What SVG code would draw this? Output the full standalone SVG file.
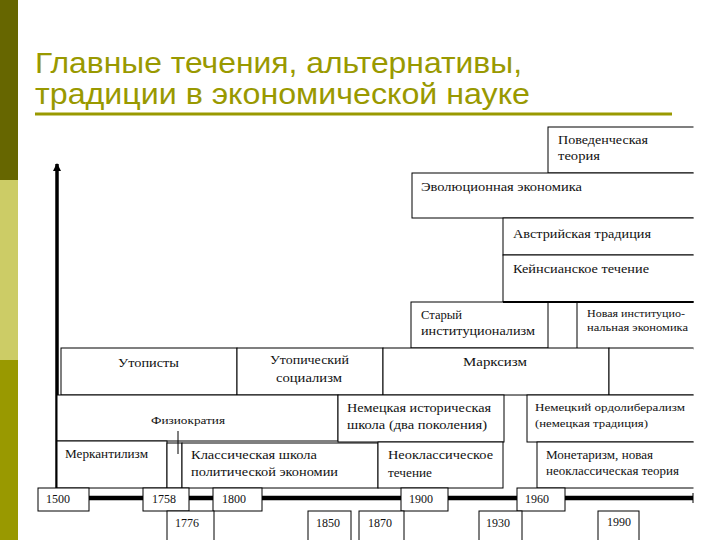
<svg xmlns="http://www.w3.org/2000/svg" width="720" height="540" viewBox="0 0 720 540">
<style>
.box{fill:#fff;stroke:#000;stroke-width:1}
.t{font-family:"Liberation Serif","Times New Roman",serif;font-size:13px;fill:#111}
.s{font-size:11px}
.y{font-family:"Liberation Serif","Times New Roman",serif;font-size:12px;fill:#111}
.title{font-family:"Liberation Sans",Arial,sans-serif;font-size:30px;fill:#999900}
</style>
<defs>
<marker id="arr" viewBox="0 0 8 10" refX="7" refY="5" markerWidth="8" markerHeight="10" markerUnits="userSpaceOnUse" orient="auto">
<path d="M0,1 L8,5 L0,9 Z" fill="#000"/>
</marker>
<clipPath id="clip"><rect x="0" y="0" width="693.5" height="540"/></clipPath>
</defs>
<rect x="0" y="0" width="720" height="540" fill="#fff"/>
<g id="sidebar">
<rect x="0" y="0" width="18" height="180" fill="#666600"/>
<rect x="0" y="180" width="18" height="180" fill="#CCCC66"/>
<rect x="0" y="360" width="18" height="180" fill="#999900"/>
</g>
<g id="title">
<text class="title" x="35" y="73" textLength="487" lengthAdjust="spacingAndGlyphs">Главные течения, альтернативы,</text>
<text class="title" x="35" y="104" textLength="495" lengthAdjust="spacingAndGlyphs">традиции в экономической науке</text>
<rect x="35" y="112.5" width="637" height="3" fill="#999900"/>
</g>
<g id="connectors">
<line x1="57" y1="498" x2="57" y2="164" stroke="#000" stroke-width="3.5" marker-end="url(#arr)"/>
<line x1="57" y1="498" x2="693" y2="498" stroke="#000" stroke-width="4.5"/>
<line x1="693" y1="493" x2="693" y2="503" stroke="#000" stroke-width="1"/>
</g>
<g clip-path="url(#clip)">
<g id="behav"><rect class="box" x="548" y="127" width="160" height="46"/>
<text class="t" x="558" y="144" textLength="90" lengthAdjust="spacingAndGlyphs">Поведенческая</text>
<text class="t" x="558" y="160" textLength="42" lengthAdjust="spacingAndGlyphs">теория</text></g>
<g id="evol"><rect class="box" x="412" y="173" width="300" height="45"/>
<text class="t" x="421" y="191" textLength="161" lengthAdjust="spacingAndGlyphs">Эволюционная экономика</text></g>
<g id="austr"><rect class="box" x="503" y="218" width="210" height="37"/>
<text class="t" x="513" y="238" textLength="138" lengthAdjust="spacingAndGlyphs">Австрийская традиция</text></g>
<g id="keynes"><rect class="box" x="503" y="255" width="210" height="47"/>
<text class="t" x="513" y="273" textLength="136" lengthAdjust="spacingAndGlyphs">Кейнсианское течение</text></g>
<g id="oldinst"><rect class="box" x="411" y="302" width="137" height="46"/>
<text class="t" x="421" y="319" textLength="41" lengthAdjust="spacingAndGlyphs">Старый</text>
<text class="t" x="421" y="335" textLength="114" lengthAdjust="spacingAndGlyphs">институционализм</text></g>
<g id="newinst"><rect class="box" x="577" y="302" width="140" height="47"/>
<text class="t s" x="587" y="317" textLength="98" lengthAdjust="spacingAndGlyphs">Новая институцио-</text>
<text class="t s" x="587" y="331" textLength="101" lengthAdjust="spacingAndGlyphs">нальная экономика</text></g>
<line x1="503" y1="302" x2="700" y2="302" stroke="#000" stroke-width="2"/>
<g id="utop"><rect class="box" x="61" y="348" width="176" height="47"/>
<text class="t" x="118" y="367" textLength="61" lengthAdjust="spacingAndGlyphs">Утописты</text></g>
<g id="utosoc"><rect class="box" x="237" y="348" width="146" height="47"/>
<text class="t" x="270" y="364" textLength="79" lengthAdjust="spacingAndGlyphs">Утопический</text>
<text class="t" x="276" y="382" textLength="66" lengthAdjust="spacingAndGlyphs">социализм</text></g>
<g id="marx"><rect class="box" x="383" y="348" width="226" height="47"/>
<text class="t" x="463" y="366" textLength="64" lengthAdjust="spacingAndGlyphs">Марксизм</text></g>
<g id="blank"><rect class="box" x="609" y="348" width="110" height="47"/></g>
<g id="physio"><rect class="box" x="57" y="395" width="281" height="46"/>
<text class="t s" x="151" y="424" textLength="74" lengthAdjust="spacingAndGlyphs">Физиократия</text></g>
<g id="germhist"><rect class="box" x="338" y="395" width="166" height="47"/>
<text class="t" x="347" y="412" textLength="144" lengthAdjust="spacingAndGlyphs">Немецкая историческая</text>
<text class="t" x="347" y="429" textLength="140" lengthAdjust="spacingAndGlyphs">школа (два поколения)</text></g>
<g id="ordo"><rect class="box" x="527" y="395" width="190" height="47"/>
<text class="t s" x="535" y="411" textLength="150" lengthAdjust="spacingAndGlyphs">Немецкий ордолиберализм</text>
<text class="t s" x="535" y="427" textLength="113" lengthAdjust="spacingAndGlyphs">(немецкая традиция)</text></g>
<g id="merc"><rect class="box" x="57" y="441" width="110" height="47"/>
<text class="t" x="65" y="458" textLength="83" lengthAdjust="spacingAndGlyphs">Меркантилизм</text></g>
<g id="narrow"><rect class="box" x="167" y="443" width="15" height="45"/></g>
<g id="classic"><rect class="box" x="182" y="443" width="196" height="45"/>
<text class="t" x="191" y="459" textLength="126" lengthAdjust="spacingAndGlyphs">Классическая школа</text>
<text class="t" x="191" y="476" textLength="147" lengthAdjust="spacingAndGlyphs">политической экономии</text></g>
<g id="neocl"><rect class="box" x="378" y="442" width="125" height="46"/>
<text class="t" x="388" y="459" textLength="105" lengthAdjust="spacingAndGlyphs">Неоклассическое</text>
<text class="t" x="388" y="477" textLength="44" lengthAdjust="spacingAndGlyphs">течение</text></g>
<g id="monet"><rect class="box" x="537" y="442" width="180" height="46"/>
<text class="t" x="546" y="459" textLength="107" lengthAdjust="spacingAndGlyphs">Монетаризм, новая</text>
<text class="t" x="546" y="475" textLength="133" lengthAdjust="spacingAndGlyphs">неоклассическая теория</text></g>
</g>
<line x1="178" y1="431" x2="178" y2="454" stroke="#000" stroke-width="1"/>
<g id="y1500"><rect class="box" x="38" y="488" width="51" height="23"/><text class="y" x="46" y="503">1500</text></g>
<g id="y1758"><rect class="box" x="143" y="488" width="46" height="23"/><text class="y" x="152" y="503">1758</text></g>
<g id="y1800"><rect class="box" x="213" y="488" width="49" height="23"/><text class="y" x="222" y="503">1800</text></g>
<g id="y1900"><rect class="box" x="401" y="488" width="47" height="23"/><text class="y" x="409" y="503">1900</text></g>
<g id="y1960"><rect class="box" x="517" y="488" width="48" height="23"/><text class="y" x="525" y="503">1960</text></g>
<g id="y1776"><rect class="box" x="167" y="511" width="47" height="35"/><text class="y" x="175" y="527">1776</text></g>
<g id="y1850"><rect class="box" x="308" y="511" width="43" height="35"/><text class="y" x="316" y="527">1850</text></g>
<g id="y1870"><rect class="box" x="359" y="511" width="45" height="35"/><text class="y" x="368" y="527">1870</text></g>
<g id="y1930"><rect class="box" x="479" y="511" width="43" height="35"/><text class="y" x="486" y="527">1930</text></g>
<g id="y1990"><rect class="box" x="598" y="511" width="41" height="35"/><text class="y s" x="607" y="526">1990</text></g>
</svg>
